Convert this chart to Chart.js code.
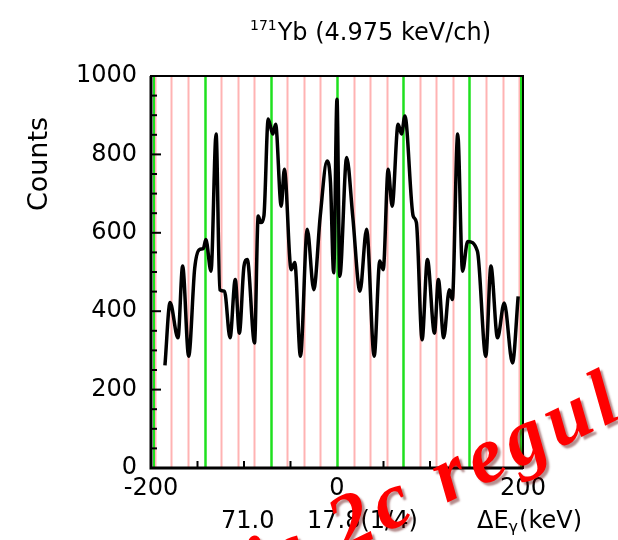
<!DOCTYPE html>
<html>
<head>
<meta charset="utf-8">
<script src="https://cdn.jsdelivr.net/npm/chart.js"></script>
<style>
  body { margin: 0; background: #fff; }
  canvas { display: block; }
</style>
</head>
<body>
<canvas id="spec" width="618" height="540"></canvas>
<script>
// gamma-gamma difference spectrum
const energies = [-185, -179.5, -171, -166, -159.5, -153, -148, -143.7, -141, -135.5, -130, -126, -121, -115,
  -109.4, -105, -100, -96.5, -88.7, -84.7, -82, -78.6, -74, -69, -66, -60, -56.6, -49.3, -45.4, -39.3,
  -32, -25, -18, -10.7, -7, -3.6, 0, 3, 10.4, 17, 24.7, 31.8, 40, 46, 49.7, 55, 59.3, 65.7, 69.4, 73,
  81.9, 85.4, 91.5, 97.2, 104.8, 109, 114.7, 120.8, 124, 129.8, 135, 140.5, 151, 160, 165.5, 172.6,
  179.8, 188.7, 194.8];
const counts = [262, 422, 332, 515, 285, 510, 557, 560, 583, 502, 852, 455, 451, 332,
  481, 344, 515, 532, 319, 643, 626, 643, 890, 852, 877, 668, 762, 506, 524, 285,
  609, 455, 643, 783, 728, 498, 941, 489, 792, 640, 451, 609, 285, 528, 506, 762, 668, 877, 852, 898,
  643, 626, 327, 532, 344, 481, 332, 455, 430, 852, 502, 578, 553, 285, 515, 332,
  421, 268, 438];

const xTickLabels = [-200, 0, 200];
const xSmallTicks = [-150, -100, -50, 50, 100, 150];
const yTickLabels = [0, 200, 400, 600, 800, 1000];
const ySmallTicks = [50, 100, 150, 250, 300, 350, 450, 500, 550, 650, 700, 750, 850, 900, 950];
const fineStep = 17.8;   // pink lines, every 4th one green (71.2)

const FONT = 'DejaVu Sans';

const decor = {
  id: 'decor',
  beforeDatasetsDraw(chart) {
    const { ctx, chartArea: a, scales: { x } } = chart;
    ctx.save();
    for (let k = -11; k <= 11; k++) {
      const px = Math.round(x.getPixelForValue(k * fineStep)) + 0.5;
      const green = k % 4 === 0;
      ctx.strokeStyle = green ? '#1fe01f' : '#ffb3b3';
      ctx.lineWidth = green ? 2.5 : 2;
      ctx.beginPath();
      ctx.moveTo(px, a.top);
      ctx.lineTo(px, a.bottom);
      ctx.stroke();
    }
    // green lines hugging both edges
    ctx.strokeStyle = '#1fe01f';
    ctx.lineWidth = 2;
    [x.getPixelForValue(-200) + 3, x.getPixelForValue(200) - 2].forEach(px => {
      ctx.beginPath();
      ctx.moveTo(px, a.top);
      ctx.lineTo(px, a.bottom);
      ctx.stroke();
    });
    ctx.restore();
  },
  afterDatasetsDraw(chart) {
    const { ctx, chartArea: a, scales: { x, y } } = chart;
    ctx.save();
    ctx.strokeStyle = '#000';
    // frame
    ctx.lineWidth = 2;
    ctx.strokeRect(a.left, a.top, a.right - a.left, a.bottom - a.top);
    ctx.lineWidth = 3;
    ctx.beginPath();
    ctx.moveTo(a.left, a.top);
    ctx.lineTo(a.left, a.bottom);
    ctx.lineTo(a.right, a.bottom);
    ctx.stroke();
    // inner tick marks
    ctx.lineWidth = 2;
    yTickLabels.concat(ySmallTicks).forEach(v => {
      const py = y.getPixelForValue(v);
      const len = yTickLabels.includes(v) ? 10 : 6;
      ctx.beginPath();
      ctx.moveTo(a.left, py);
      ctx.lineTo(a.left + len, py);
      ctx.stroke();
    });
    xSmallTicks.forEach(v => {
      const px = x.getPixelForValue(v);
      ctx.beginPath();
      ctx.moveTo(px, a.bottom);
      ctx.lineTo(px, a.bottom - 7);
      ctx.stroke();
    });
    ctx.restore();
  },
  afterDraw(chart) {
    const { ctx } = chart;
    ctx.save();
    ctx.fillStyle = '#000';
    ctx.textBaseline = 'alphabetic';
    // top title
    ctx.font = '14px "' + FONT + '"';
    const supW = ctx.measureText('171').width;
    ctx.font = '24px "' + FONT + '"';
    const main = 'Yb (4.975 keV/ch)';
    const mainW = ctx.measureText(main).width;
    let tx = 370 - (supW + mainW) / 2;
    ctx.font = '14px "' + FONT + '"';
    ctx.fillText('171', tx, 30);
    ctx.font = '24px "' + FONT + '"';
    ctx.fillText(main, tx + supW + 1, 40);
    // x axis title
    ctx.fillText('71.0', 221, 528);
    ctx.fillText('17.8(1/4)', 307, 528);
    ctx.fillText('\u0394E', 477, 528);
    const dW = ctx.measureText('\u0394E').width;
    ctx.font = '16px "' + FONT + '"';
    ctx.fillText('\u03b3', 477 + dW, 532);
    const gW = ctx.measureText('\u03b3').width;
    ctx.font = '24px "' + FONT + '"';
    ctx.fillText('(keV)', 477 + dW + gW + 1, 528);
    // y axis title
    ctx.translate(47, 164);
    ctx.rotate(-Math.PI / 2);
    ctx.font = '27px "' + FONT + '"';
    ctx.textAlign = 'center';
    ctx.fillText('Counts', 0, 0);
    ctx.restore();

    // red overlay text from the slide
    ctx.save();
    ctx.font = 'italic bold 80px "Liberation Serif"';
    ctx.letterSpacing = '6px';
    ctx.fillStyle = '#ff0000';
    ctx.shadowColor = 'rgba(90,0,0,0.45)';
    ctx.shadowOffsetX = 3;
    ctx.shadowOffsetY = 3;
    ctx.shadowBlur = 2;
    ctx.translate(344, 553);
    ctx.rotate(-26 * Math.PI / 180);
    const pre = ctx.measureText('is ').width;
    ctx.fillText('is 2c regular', -pre, 0);
    ctx.restore();
  }
};

new Chart(document.getElementById('spec'), {
  type: 'line',
  data: {
    datasets: [{
      data: energies.map((e, i) => ({ x: e, y: counts[i] })),
      borderColor: '#000',
      borderWidth: 3.5,
      pointRadius: 0,
      cubicInterpolationMode: 'monotone',
      fill: false
    }]
  },
  options: {
    responsive: false,
    animation: false,
    events: [],
    layout: { padding: { top: 76, right: 95, left: 0, bottom: 0 } },
    plugins: { legend: { display: false }, tooltip: { enabled: false } },
    scales: {
      x: {
        type: 'linear',
        min: -200,
        max: 200,
        afterBuildTicks: s => { s.ticks = xTickLabels.map(v => ({ value: v })); },
        afterFit: s => { s.height = 72; },
        grid: { display: false, drawTicks: false },
        border: { display: false },
        ticks: { color: '#000', font: { family: FONT, size: 24 }, padding: 6, maxRotation: 0, autoSkip: false,
          callback: v => String(v) }
      },
      y: {
        min: 0,
        max: 1000,
        afterBuildTicks: s => { s.ticks = yTickLabels.map(v => ({ value: v })); },
        afterFit: s => { s.width = 151; },
        grid: { display: false, drawTicks: false },
        border: { display: false },
        ticks: { color: '#000', font: { family: FONT, size: 24 }, padding: 14, callback: v => String(v) }
      }
    }
  },
  plugins: [decor]
});
</script>
</body>
</html>
